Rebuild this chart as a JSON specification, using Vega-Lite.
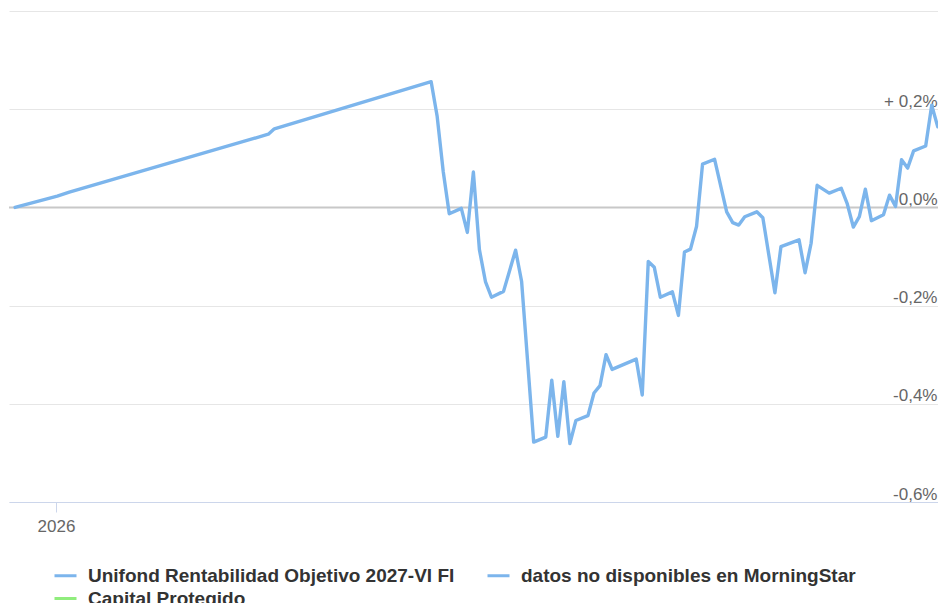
{
  "$schema": "https://vega.github.io/schema/vega-lite/v6.json",
  "width": 929,
  "height": 491,
  "autosize": "none",
  "padding": {"left": 9, "top": 11, "right": 0, "bottom": 101},
  "background": "white",
  "config": {"view": {"stroke": null}, "font": "Liberation Sans"},
  "data": {
    "values": [
      {"serie": "Unifond Rentabilidad Objetivo 2027-VI FI", "fecha": "2025-12-25T05:00:00Z", "valor": 0.0},
      {"serie": "Unifond Rentabilidad Objetivo 2027-VI FI", "fecha": "2026-01-01T05:00:00Z", "valor": 0.023},
      {"serie": "Unifond Rentabilidad Objetivo 2027-VI FI", "fecha": "2026-01-03T05:00:00Z", "valor": 0.031},
      {"serie": "Unifond Rentabilidad Objetivo 2027-VI FI", "fecha": "2026-02-05T05:00:00Z", "valor": 0.149},
      {"serie": "Unifond Rentabilidad Objetivo 2027-VI FI", "fecha": "2026-02-06T05:00:00Z", "valor": 0.160},
      {"serie": "Unifond Rentabilidad Objetivo 2027-VI FI", "fecha": "2026-03-04T05:00:00Z", "valor": 0.256},
      {"serie": "Unifond Rentabilidad Objetivo 2027-VI FI", "fecha": "2026-03-05T05:00:00Z", "valor": 0.185},
      {"serie": "Unifond Rentabilidad Objetivo 2027-VI FI", "fecha": "2026-03-06T05:00:00Z", "valor": 0.073},
      {"serie": "Unifond Rentabilidad Objetivo 2027-VI FI", "fecha": "2026-03-07T05:00:00Z", "valor": -0.013},
      {"serie": "Unifond Rentabilidad Objetivo 2027-VI FI", "fecha": "2026-03-09T05:00:00Z", "valor": -0.002},
      {"serie": "Unifond Rentabilidad Objetivo 2027-VI FI", "fecha": "2026-03-10T05:00:00Z", "valor": -0.051},
      {"serie": "Unifond Rentabilidad Objetivo 2027-VI FI", "fecha": "2026-03-11T05:00:00Z", "valor": 0.072},
      {"serie": "Unifond Rentabilidad Objetivo 2027-VI FI", "fecha": "2026-03-12T05:00:00Z", "valor": -0.086},
      {"serie": "Unifond Rentabilidad Objetivo 2027-VI FI", "fecha": "2026-03-13T05:00:00Z", "valor": -0.151},
      {"serie": "Unifond Rentabilidad Objetivo 2027-VI FI", "fecha": "2026-03-14T05:00:00Z", "valor": -0.183},
      {"serie": "Unifond Rentabilidad Objetivo 2027-VI FI", "fecha": "2026-03-16T05:00:00Z", "valor": -0.171},
      {"serie": "Unifond Rentabilidad Objetivo 2027-VI FI", "fecha": "2026-03-18T05:00:00Z", "valor": -0.087},
      {"serie": "Unifond Rentabilidad Objetivo 2027-VI FI", "fecha": "2026-03-19T05:00:00Z", "valor": -0.151},
      {"serie": "Unifond Rentabilidad Objetivo 2027-VI FI", "fecha": "2026-03-21T05:00:00Z", "valor": -0.478},
      {"serie": "Unifond Rentabilidad Objetivo 2027-VI FI", "fecha": "2026-03-23T05:00:00Z", "valor": -0.468},
      {"serie": "Unifond Rentabilidad Objetivo 2027-VI FI", "fecha": "2026-03-24T05:00:00Z", "valor": -0.352},
      {"serie": "Unifond Rentabilidad Objetivo 2027-VI FI", "fecha": "2026-03-25T05:00:00Z", "valor": -0.466},
      {"serie": "Unifond Rentabilidad Objetivo 2027-VI FI", "fecha": "2026-03-26T05:00:00Z", "valor": -0.355},
      {"serie": "Unifond Rentabilidad Objetivo 2027-VI FI", "fecha": "2026-03-27T05:00:00Z", "valor": -0.481},
      {"serie": "Unifond Rentabilidad Objetivo 2027-VI FI", "fecha": "2026-03-28T05:00:00Z", "valor": -0.434},
      {"serie": "Unifond Rentabilidad Objetivo 2027-VI FI", "fecha": "2026-03-30T05:00:00Z", "valor": -0.424},
      {"serie": "Unifond Rentabilidad Objetivo 2027-VI FI", "fecha": "2026-03-31T05:00:00Z", "valor": -0.378},
      {"serie": "Unifond Rentabilidad Objetivo 2027-VI FI", "fecha": "2026-04-01T05:00:00Z", "valor": -0.363},
      {"serie": "Unifond Rentabilidad Objetivo 2027-VI FI", "fecha": "2026-04-02T05:00:00Z", "valor": -0.300},
      {"serie": "Unifond Rentabilidad Objetivo 2027-VI FI", "fecha": "2026-04-03T05:00:00Z", "valor": -0.330},
      {"serie": "Unifond Rentabilidad Objetivo 2027-VI FI", "fecha": "2026-04-07T05:00:00Z", "valor": -0.309},
      {"serie": "Unifond Rentabilidad Objetivo 2027-VI FI", "fecha": "2026-04-08T05:00:00Z", "valor": -0.382},
      {"serie": "Unifond Rentabilidad Objetivo 2027-VI FI", "fecha": "2026-04-09T05:00:00Z", "valor": -0.110},
      {"serie": "Unifond Rentabilidad Objetivo 2027-VI FI", "fecha": "2026-04-10T05:00:00Z", "valor": -0.122},
      {"serie": "Unifond Rentabilidad Objetivo 2027-VI FI", "fecha": "2026-04-11T05:00:00Z", "valor": -0.183},
      {"serie": "Unifond Rentabilidad Objetivo 2027-VI FI", "fecha": "2026-04-13T05:00:00Z", "valor": -0.172},
      {"serie": "Unifond Rentabilidad Objetivo 2027-VI FI", "fecha": "2026-04-14T05:00:00Z", "valor": -0.220},
      {"serie": "Unifond Rentabilidad Objetivo 2027-VI FI", "fecha": "2026-04-15T05:00:00Z", "valor": -0.091},
      {"serie": "Unifond Rentabilidad Objetivo 2027-VI FI", "fecha": "2026-04-16T05:00:00Z", "valor": -0.085},
      {"serie": "Unifond Rentabilidad Objetivo 2027-VI FI", "fecha": "2026-04-17T05:00:00Z", "valor": -0.039},
      {"serie": "Unifond Rentabilidad Objetivo 2027-VI FI", "fecha": "2026-04-18T05:00:00Z", "valor": 0.088},
      {"serie": "Unifond Rentabilidad Objetivo 2027-VI FI", "fecha": "2026-04-20T05:00:00Z", "valor": 0.098},
      {"serie": "Unifond Rentabilidad Objetivo 2027-VI FI", "fecha": "2026-04-22T05:00:00Z", "valor": -0.009},
      {"serie": "Unifond Rentabilidad Objetivo 2027-VI FI", "fecha": "2026-04-23T05:00:00Z", "valor": -0.031},
      {"serie": "Unifond Rentabilidad Objetivo 2027-VI FI", "fecha": "2026-04-24T05:00:00Z", "valor": -0.036},
      {"serie": "Unifond Rentabilidad Objetivo 2027-VI FI", "fecha": "2026-04-25T05:00:00Z", "valor": -0.019},
      {"serie": "Unifond Rentabilidad Objetivo 2027-VI FI", "fecha": "2026-04-27T05:00:00Z", "valor": -0.009},
      {"serie": "Unifond Rentabilidad Objetivo 2027-VI FI", "fecha": "2026-04-28T05:00:00Z", "valor": -0.021},
      {"serie": "Unifond Rentabilidad Objetivo 2027-VI FI", "fecha": "2026-04-30T05:00:00Z", "valor": -0.174},
      {"serie": "Unifond Rentabilidad Objetivo 2027-VI FI", "fecha": "2026-05-01T05:00:00Z", "valor": -0.080},
      {"serie": "Unifond Rentabilidad Objetivo 2027-VI FI", "fecha": "2026-05-04T05:00:00Z", "valor": -0.066},
      {"serie": "Unifond Rentabilidad Objetivo 2027-VI FI", "fecha": "2026-05-05T05:00:00Z", "valor": -0.133},
      {"serie": "Unifond Rentabilidad Objetivo 2027-VI FI", "fecha": "2026-05-06T05:00:00Z", "valor": -0.073},
      {"serie": "Unifond Rentabilidad Objetivo 2027-VI FI", "fecha": "2026-05-07T05:00:00Z", "valor": 0.045},
      {"serie": "Unifond Rentabilidad Objetivo 2027-VI FI", "fecha": "2026-05-09T05:00:00Z", "valor": 0.029},
      {"serie": "Unifond Rentabilidad Objetivo 2027-VI FI", "fecha": "2026-05-11T05:00:00Z", "valor": 0.039},
      {"serie": "Unifond Rentabilidad Objetivo 2027-VI FI", "fecha": "2026-05-12T05:00:00Z", "valor": 0.007},
      {"serie": "Unifond Rentabilidad Objetivo 2027-VI FI", "fecha": "2026-05-13T05:00:00Z", "valor": -0.040},
      {"serie": "Unifond Rentabilidad Objetivo 2027-VI FI", "fecha": "2026-05-14T05:00:00Z", "valor": -0.019},
      {"serie": "Unifond Rentabilidad Objetivo 2027-VI FI", "fecha": "2026-05-15T05:00:00Z", "valor": 0.037},
      {"serie": "Unifond Rentabilidad Objetivo 2027-VI FI", "fecha": "2026-05-16T05:00:00Z", "valor": -0.027},
      {"serie": "Unifond Rentabilidad Objetivo 2027-VI FI", "fecha": "2026-05-18T05:00:00Z", "valor": -0.015},
      {"serie": "Unifond Rentabilidad Objetivo 2027-VI FI", "fecha": "2026-05-19T05:00:00Z", "valor": 0.025},
      {"serie": "Unifond Rentabilidad Objetivo 2027-VI FI", "fecha": "2026-05-20T05:00:00Z", "valor": 0.002},
      {"serie": "Unifond Rentabilidad Objetivo 2027-VI FI", "fecha": "2026-05-21T05:00:00Z", "valor": 0.097},
      {"serie": "Unifond Rentabilidad Objetivo 2027-VI FI", "fecha": "2026-05-22T05:00:00Z", "valor": 0.080},
      {"serie": "Unifond Rentabilidad Objetivo 2027-VI FI", "fecha": "2026-05-23T05:00:00Z", "valor": 0.115},
      {"serie": "Unifond Rentabilidad Objetivo 2027-VI FI", "fecha": "2026-05-25T05:00:00Z", "valor": 0.125},
      {"serie": "Unifond Rentabilidad Objetivo 2027-VI FI", "fecha": "2026-05-26T05:00:00Z", "valor": 0.208},
      {"serie": "Unifond Rentabilidad Objetivo 2027-VI FI", "fecha": "2026-05-27T05:00:00Z", "valor": 0.164}
    ]
  },
  "layer": [
    {
      "data": {"values": [{}]},
      "mark": {"type": "rule", "color": "#c8c8c8", "strokeWidth": 2},
      "encoding": {
        "y": {
          "datum": 0,
          "type": "quantitative",
          "scale": {"domain": [-0.6, 0.4], "nice": false, "zero": false},
          "axis": {
            "orient": "right",
            "values": [-0.6, -0.4, -0.2, 0, 0.2, 0.4],
            "domain": false,
            "ticks": false,
            "tickSize": 0,
            "grid": true,
            "gridColor": "#e6e6e6",
            "gridWidth": 1,
            "labelAlign": "right",
            "labelBaseline": "alphabetic",
            "labelPadding": -1,
            "labelOffset": -3,
            "labelFontSize": 17,
            "labelColor": "#666666",
            "labelFont": "Liberation Sans",
            "labelBound": false,
            "labelOverlap": false,
            "labelFlush": false,
            "title": null,
            "labelExpr": "datum.value > 0.3 ? '' : (datum.value > 0.01 ? '+ ' : (datum.value < -0.01 ? '-' : '')) + replace(format(abs(datum.value), '.1f'), '.', ',') + '%'"
          }
        }
      }
    },
    {
      "mark": {"type": "line", "strokeWidth": 3.4, "strokeJoin": "round", "strokeCap": "round", "clip": true},
      "encoding": {
        "x": {
          "field": "fecha",
          "type": "temporal",
          "scale": {
            "type": "utc",
            "nice": false,
            "domain": [
              {"year": 2025, "month": 12, "date": 24, "hours": 5, "utc": true},
              {"year": 2026, "month": 5, "date": 27, "hours": 6, "utc": true}
            ]
          },
          "axis": {
            "values": [{"year": 2026, "month": 1, "date": 1, "utc": true}],
            "format": "%Y",
            "domainColor": "#ccd6eb",
            "domainWidth": 1,
            "tickColor": "#ccd6eb",
            "tickSize": 10,
            "tickWidth": 1,
            "labelFontSize": 17,
            "labelColor": "#666666",
            "labelFont": "Liberation Sans",
            "labelPadding": 6,
            "labelFlush": false,
            "grid": false,
            "title": null
          }
        },
        "y": {
          "field": "valor",
          "type": "quantitative",
          "scale": {"domain": [-0.6, 0.4], "nice": false, "zero": false},
          "axis": {
            "orient": "right",
            "values": [-0.6, -0.4, -0.2, 0, 0.2, 0.4],
            "domain": false,
            "ticks": false,
            "tickSize": 0,
            "grid": true,
            "gridColor": "#e6e6e6",
            "gridWidth": 1,
            "labelAlign": "right",
            "labelBaseline": "alphabetic",
            "labelPadding": -1,
            "labelOffset": -3,
            "labelFontSize": 17,
            "labelColor": "#666666",
            "labelFont": "Liberation Sans",
            "labelBound": false,
            "labelOverlap": false,
            "labelFlush": false,
            "title": null,
            "labelExpr": "datum.value > 0.3 ? '' : (datum.value > 0.01 ? '+ ' : (datum.value < -0.01 ? '-' : '')) + replace(format(abs(datum.value), '.1f'), '.', ',') + '%'"
          }
        },
        "color": {
          "field": "serie",
          "type": "nominal",
          "scale": {
            "domain": ["Unifond Rentabilidad Objetivo 2027-VI FI", "Capital Protegido", "datos no disponibles en MorningStar"],
            "range": ["#7cb5ec", "#90ed7d", "#7cb5ec"]
          },
          "legend": {
            "orient": "none",
            "legendX": 44,
            "legendY": 552,
            "columns": 2,
            "columnPadding": 26,
            "title": null,
            "symbolType": "stroke",
            "symbolSize": 484,
            "symbolStrokeWidth": 3,
            "labelFontSize": 19,
            "labelFontWeight": "bold",
            "labelColor": "#333333",
            "labelFont": "Liberation Sans",
            "labelOffset": 10,
            "rowPadding": -5,
            "labelLimit": 0,
            "padding": 0
          }
        }
      }
    }
  ]
}
